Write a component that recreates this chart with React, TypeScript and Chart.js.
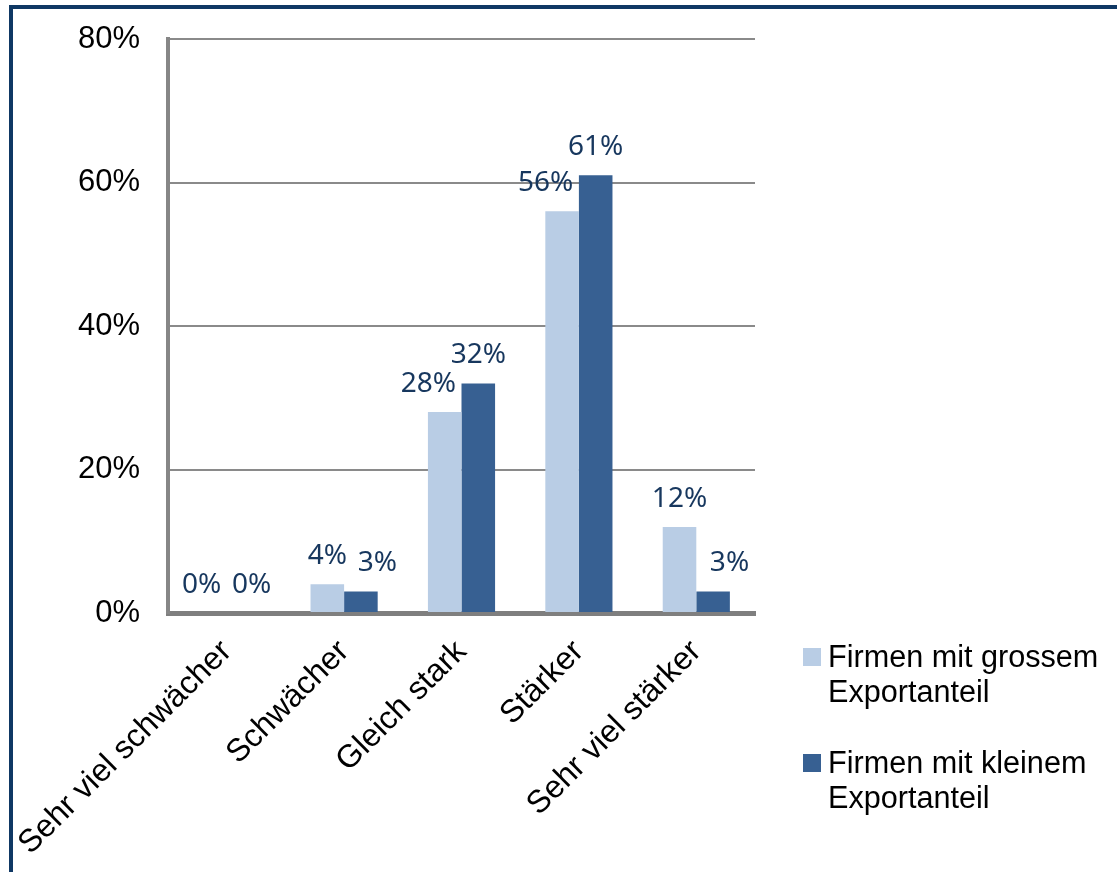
import React, { useEffect, useRef } from 'react';
import { Chart, registerables } from 'chart.js';

Chart.register(...registerables);

const categories = ['Sehr viel schwächer', 'Schwächer', 'Gleich stark', 'Stärker', 'Sehr viel stärker'];
const seriesNames = ['Firmen mit grossem\nExportanteil', 'Firmen mit kleinem\nExportanteil'];
const largeExportShare = [0, 4, 28, 56, 12];
const smallExportShare = [0, 3, 32, 61, 3];
const yTickMin = 0;
const yTickMax = 80;
const yTickStep = 20;

const LIGHT = '#B9CDE5';
const DARK = '#376092';
const LABEL_NAVY = '#17375E';
const ARIAL = '"Liberation Sans", Arial, sans-serif';

// Value labels above the bars; when two labels of a pair would crowd each
// other, the label of the shorter bar is pushed sideways (like Excel does).
const dataLabelPlugin = {
  id: 'barValueLabels',
  afterDatasetsDraw(chart: any) {
    const ctx = chart.ctx;
    ctx.save();
    ctx.font = '28px "Noto Sans", sans-serif';
    ctx.fillStyle = LABEL_NAVY;
    ctx.textAlign = 'center';
    ctx.textBaseline = 'alphabetic';
    const dsA = chart.data.datasets[0].data;
    const dsB = chart.data.datasets[1].data;
    const metaA = chart.getDatasetMeta(0);
    const metaB = chart.getDatasetMeta(1);
    const n = chart.data.labels.length;
    const sep = 50;
    for (let j = 0; j < n; j++) {
      const a = metaA.data[j];
      const b = metaB.data[j];
      let xa = a.x;
      let xb = b.x;
      if (xb - xa < sep) {
        if (dsA[j] > dsB[j]) {
          xb = xa + sep;
        } else if (dsB[j] > dsA[j]) {
          xa = xb - sep;
        } else {
          const mid = (xa + xb) / 2;
          xa = mid - sep / 2;
          xb = mid + sep / 2;
        }
      }
      ctx.fillText(dsA[j] + '%', xa, a.y - 20);
      ctx.fillText(dsB[j] + '%', xb, b.y - 20);
    }
    ctx.restore();
  },
};

const sideLegendPlugin = {
  id: 'sideLegend',
  afterDraw(chart: any) {
    const { ctx, chartArea } = chart;
    ctx.save();
    ctx.font = '30.6px ' + ARIAL;
    ctx.fillStyle = '#000';
    ctx.textAlign = 'left';
    ctx.textBaseline = 'alphabetic';
    const boxX = chartArea.right + 48;
    const textX = boxX + 25;
    const lineH = 35;
    let baseline = chartArea.bottom + 54;
    chart.data.datasets.forEach((ds: any) => {
      const lines = String(ds.label).split('\n');
      ctx.fillStyle = ds.backgroundColor;
      ctx.fillRect(boxX, baseline - 19, 18, 18);
      ctx.fillStyle = '#000';
      lines.forEach((ln: string, k: number) => {
        ctx.fillText(ln, textX, baseline + k * lineH);
      });
      baseline += lines.length * lineH + 36;
    });
    ctx.restore();
  },
};

export default function App() {
  const canvasRef = useRef<HTMLCanvasElement | null>(null);

  useEffect(() => {
    const canvas = canvasRef.current;
    if (!canvas) return;
    const chart = new Chart(canvas, {
      type: 'bar',
      data: {
        labels: categories,
        datasets: [
          {
            label: seriesNames[0],
            data: largeExportShare,
            backgroundColor: LIGHT,
            borderWidth: 0,
            categoryPercentage: 0.572,
            barPercentage: 1,
          },
          {
            label: seriesNames[1],
            data: smallExportShare,
            backgroundColor: DARK,
            borderWidth: 0,
            categoryPercentage: 0.572,
            barPercentage: 1,
          },
        ],
      },
      options: {
        responsive: false,
        animation: false,
        devicePixelRatio: 1,
        layout: { padding: { top: 39, right: 362, left: 0, bottom: 0 } },
        plugins: {
          legend: { display: false },
          tooltip: { enabled: false },
        },
        scales: {
          x: {
            ticks: {
              autoSkip: false,
              maxRotation: 45,
              minRotation: 45,
              color: '#000',
              font: { family: ARIAL, size: 32 },
              padding: 20,
            },
            grid: { drawOnChartArea: false, drawTicks: false },
            border: { display: true, color: '#7F7F7F', width: 5 },
            afterFit: (s: any) => {
              s.height = 259;
              s.paddingLeft = 0;
              s.paddingRight = 0;
            },
          },
          y: {
            min: yTickMin,
            max: yTickMax,
            ticks: {
              stepSize: yTickStep,
              color: '#000',
              font: { family: ARIAL, size: 31 },
              padding: 28,
              callback: (v: any) => v + '%',
            },
            grid: { color: '#8A8A8A', lineWidth: 2, drawTicks: false },
            border: { display: true, color: '#868686', width: 4 },
            afterFit: (s: any) => {
              s.width = 168;
              s.paddingTop = 0;
              s.paddingBottom = 0;
            },
          },
        },
      },
      plugins: [dataLabelPlugin, sideLegendPlugin],
    });
    return () => chart.destroy();
  }, []);

  return (
    <div style={{ position: 'absolute', left: 0, top: 0, width: 1117, height: 872, overflow: 'hidden', background: '#fff' }}>
      <div
        style={{
          position: 'absolute',
          left: 9,
          top: 5,
          width: 1300,
          height: 1100,
          borderLeft: '4px solid #0F3864',
          borderTop: '4px solid #0F3864',
          boxSizing: 'border-box',
        }}
      />
      <canvas
        ref={canvasRef}
        width={1117}
        height={872}
        style={{ position: 'absolute', left: 0, top: 0, width: 1117, height: 872 }}
      />
    </div>
  );
}
